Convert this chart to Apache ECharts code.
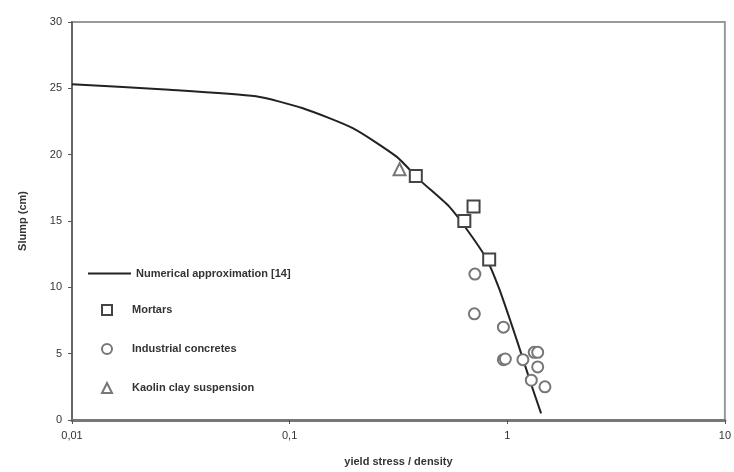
<!DOCTYPE html>
<html>
<head>
<meta charset="utf-8">
<script src="https://cdn.jsdelivr.net/npm/echarts@6/dist/echarts.min.js"></script>
<style>
    html, body { margin: 0; padding: 0; background: #fff; }
    #chart { width: 734px; height: 472px; }
</style>
</head>
<body>
<div id="chart"></div>
<script>
// 数值近似曲线 [x, slump]
var curveData = [
    [0.01, 25.3], [0.028, 24.9], [0.07, 24.4], [0.115, 23.5], [0.195, 22.0],
    [0.31, 19.85], [0.395, 18.1], [0.54, 16.1], [0.65, 14.4], [0.8, 12.2],
    [0.918, 9.9], [1.077, 6.6], [1.17, 4.8], [1.3, 2.5], [1.43, 0.5]
];
// 砂浆
var mortarData = [[0.38, 18.4], [0.70, 16.1], [0.635, 15.0], [0.826, 12.1]];
// 工业混凝土
var concreteData = [
    [0.71, 11.0], [0.706, 8.0], [0.96, 7.0], [0.96, 4.55], [0.98, 4.6],
    [1.18, 4.55], [1.33, 5.1], [1.38, 5.1], [1.38, 4.0], [1.29, 3.0], [1.49, 2.5]
];
// 高岭土悬浮液
var kaolinData = [[0.32, 18.9]];

var xTicks = [0.01, 0.1, 1, 10];
var yTicks = [0, 5, 10, 15, 20, 25, 30];

var names = {
    curve: 'Numerical approximation [14]',
    mortar: 'Mortars',
    concrete: 'Industrial concretes',
    kaolin: 'Kaolin clay suspension'
};

var chart = echarts.init(document.getElementById('chart'));
var txtColor = '#333';
var font = 'Liberation Sans';

var opt = {
    animation: false,
    backgroundColor: '#fff',
    grid: {
        left: 72, right: 8, top: 22, bottom: 49,
        show: true, borderColor: '#999', borderWidth: 2
    },
    xAxis: {
        type: 'log',
        logBase: 10,
        min: xTicks[0],
        max: xTicks[xTicks.length - 1],
        name: 'yield stress / density',
        nameLocation: 'middle',
        nameGap: 36,
        nameTextStyle: { fontFamily: font, fontSize: 11, fontWeight: 'bold', color: txtColor },
        axisLine: { lineStyle: { color: '#777', width: 3 } },
        axisTick: { show: true, length: 4, lineStyle: { color: '#555' } },
        minorTick: { show: false },
        splitLine: { show: false },
        axisLabel: {
            fontFamily: font, fontSize: 11, color: txtColor, margin: 10,
            formatter: function (v) { return String(+v.toPrecision(6)).replace('.', ','); }
        }
    },
    yAxis: {
        type: 'value',
        min: yTicks[0],
        max: yTicks[yTicks.length - 1],
        interval: 5,
        name: 'Slump (cm)',
        nameLocation: 'middle',
        nameGap: 44,
        nameRotate: 90,
        nameTextStyle: { fontFamily: font, fontSize: 11, fontWeight: 'bold', color: txtColor },
        axisLine: { show: true, lineStyle: { color: '#666', width: 2 } },
        axisTick: { show: true, length: 4, lineStyle: { color: '#555' } },
        splitLine: { show: false },
        axisLabel: { fontFamily: font, fontSize: 11, color: txtColor, margin: 10 }
    },
    legend: [
        {
            data: [{ name: names.curve, icon: 'rect' }],
            left: 83, top: 263,
            itemWidth: 43, itemHeight: 2, itemGap: 2,
            textStyle: { fontFamily: font, fontSize: 11, fontWeight: 'bold', color: txtColor }
        },
        {
            data: [names.mortar, names.concrete, names.kaolin],
            orient: 'vertical',
            left: 96, top: 299,
            itemWidth: 10, itemHeight: 10, itemGap: 27,
            textStyle: { fontFamily: font, fontSize: 11, fontWeight: 'bold', color: txtColor, padding: [0, 0, 0, 15] }
        }
    ],
    series: [
        {
            name: names.curve,
            type: 'line',
            data: curveData,
            smooth: 0.2,
            symbol: 'none',
            lineStyle: { color: '#222', width: 2 },
            itemStyle: { color: '#222' },
            z: 3
        },
        {
            name: names.mortar,
            type: 'scatter',
            data: mortarData,
            symbol: 'rect',
            symbolSize: 12,
            itemStyle: { color: '#fff', borderColor: '#444', borderWidth: 2, opacity: 1 },
            z: 4
        },
        {
            name: names.concrete,
            type: 'scatter',
            data: concreteData,
            symbol: 'circle',
            symbolSize: 11,
            itemStyle: { color: '#fff', borderColor: '#777', borderWidth: 2, opacity: 1 },
            z: 4
        },
        {
            name: names.kaolin,
            type: 'scatter',
            data: kaolinData,
            symbol: 'triangle',
            symbolSize: 12,
            itemStyle: { color: '#fff', borderColor: '#777', borderWidth: 2, opacity: 1 },
            z: 4
        }
    ]
};

chart.setOption(opt);
</script>
</body>
</html>
